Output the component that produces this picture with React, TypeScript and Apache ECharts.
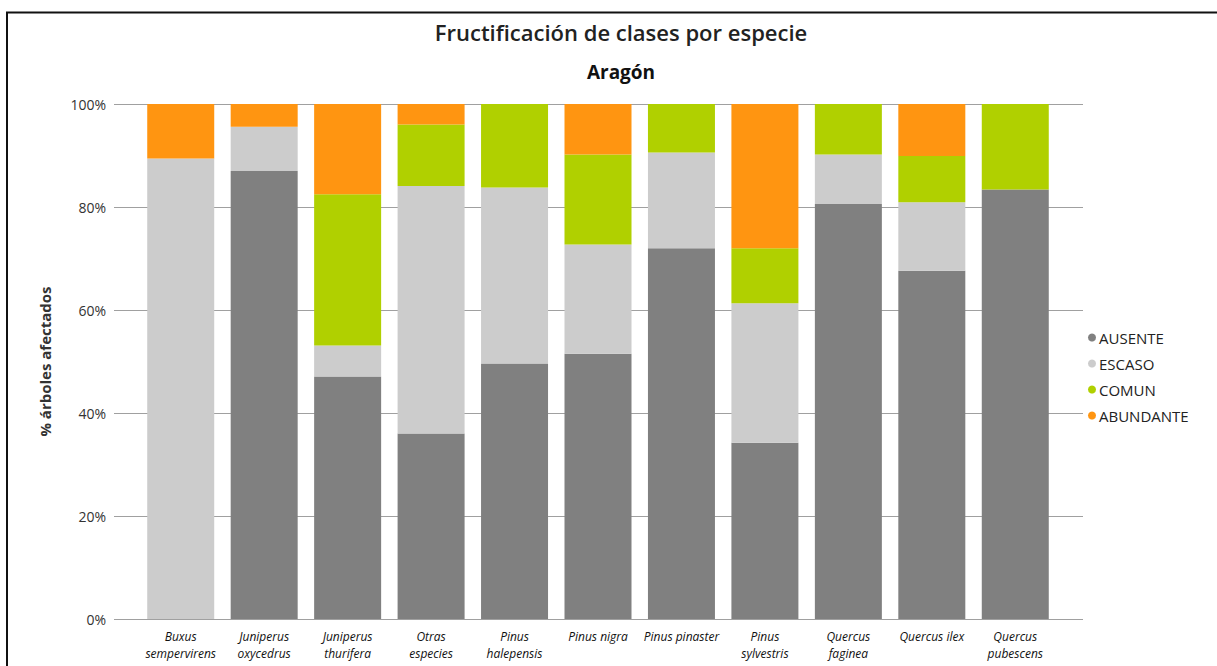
import React, { useEffect, useRef } from "react";
import * as echarts from "echarts";

const categories = [
  "Buxus sempervirens",
  "Juniperus oxycedrus",
  "Juniperus thurifera",
  "Otras especies",
  "Pinus halepensis",
  "Pinus nigra",
  "Pinus pinaster",
  "Pinus sylvestris",
  "Quercus faginea",
  "Quercus ilex",
  "Quercus pubescens",
];
const xTickLabels = [
  "Buxus\nsempervirens",
  "Juniperus\noxycedrus",
  "Juniperus\nthurifera",
  "Otras\nespecies",
  "Pinus\nhalepensis",
  "Pinus nigra",
  "Pinus pinaster",
  "Pinus\nsylvestris",
  "Quercus\nfaginea",
  "Quercus ilex",
  "Quercus\npubescens",
];
const ausente = [0, 87.0, 47.1, 36.0, 49.6, 51.5, 72.0, 34.2, 80.6, 67.6, 83.4];
const escaso = [89.4, 8.6, 6.0, 48.1, 34.2, 21.2, 18.6, 27.1, 9.6, 13.3, 0];
const comun = [0, 0, 29.4, 11.9, 16.2, 17.5, 9.4, 10.7, 9.8, 9.0, 16.6];
const abundante = [10.6, 4.4, 17.5, 4.0, 0, 9.8, 0, 28.0, 0, 10.1, 0];
const seriesNames = ["AUSENTE", "ESCASO", "COMUN", "ABUNDANTE"];
const seriesColors = ["#808080", "#cccccc", "#b0d000", "#ff9511"];
const yTicks = [0, 20, 40, 60, 80, 100];

const FONT = "'Open Sans', 'Noto Sans', sans-serif";

export default function App() {
  const ref = useRef<HTMLDivElement>(null);
  useEffect(() => {
    if (!ref.current) return;
    const chart = echarts.init(ref.current, undefined, { renderer: "svg" });
    const values = [ausente, escaso, comun, abundante];
    chart.setOption({
      animation: false,
      backgroundColor: "#ffffff",
      textStyle: { fontFamily: FONT },
      title: [
        {
          text: "Fructificación de clases por especie",
          left: 616,
          textAlign: "center",
          top: 16,
          textStyle: { fontFamily: FONT, fontSize: 22, fontWeight: 600, color: "#222" },
        },
        {
          text: "Aragón",
          left: 616,
          textAlign: "center",
          top: 57,
          textStyle: { fontFamily: FONT, fontSize: 19, fontWeight: "bold", color: "#111" },
        },
      ],
      legend: {
        orient: "vertical",
        left: 1083,
        top: 325,
        icon: "circle",
        itemWidth: 8,
        itemHeight: 8,
        itemGap: 11,
        data: seriesNames,
        textStyle: { fontFamily: FONT, fontSize: 15, color: "#222", padding: [0, 0, 0, -2] },
      },
      grid: [
        { left: 114, right: 134, top: 104, bottom: 47 },
        { left: 139, right: 160, top: 104, bottom: 47 },
      ],
      xAxis: [
        { gridIndex: 0, type: "value", min: 0, max: 1, show: false },
        {
          gridIndex: 1,
          type: "category",
          data: categories,
          axisLine: { show: false },
          axisTick: { show: false },
          axisLabel: {
            interval: 0,
            margin: 9,
            lineHeight: 17,
            fontFamily: FONT,
            fontSize: 12,
            fontStyle: "italic",
            color: "#111",
            formatter: (_v: string, i: number) => xTickLabels[i],
          },
        },
      ],
      yAxis: [
        {
          gridIndex: 0,
          type: "value",
          min: yTicks[0],
          max: yTicks[yTicks.length - 1],
          interval: 20,
          name: "% árboles afectados",
          nameLocation: "middle",
          nameGap: 62,
          nameTextStyle: { fontFamily: FONT, fontSize: 15, fontWeight: "bold", color: "#333" },
          axisLine: { show: false },
          axisTick: { show: false },
          axisLabel: {
            margin: 8,
            fontFamily: FONT,
            fontSize: 14,
            color: "#333",
            formatter: (v: number) => `${v}%`,
          },
          splitLine: { show: true, lineStyle: { color: "#a0a0a0", width: 1 } },
        },
        {
          gridIndex: 1,
          type: "value",
          min: 0,
          max: 100,
          show: false,
          splitLine: { show: false },
        },
      ],
      series: seriesNames.map((name, i) => ({
        name,
        type: "bar",
        stack: "total",
        xAxisIndex: 1,
        yAxisIndex: 1,
        barWidth: 67,
        data: values[i],
        itemStyle: { color: seriesColors[i] },
      })),
      graphic: [
        {
          type: "rect",
          shape: { x: 7, y: 12.5, width: 1240, height: 700 },
          style: { fill: "none", stroke: "#111", lineWidth: 2 },
          silent: true,
        },
      ],
    });
    return () => chart.dispose();
  }, []);
  return (
    <div
      ref={ref}
      style={{ position: "absolute", left: 0, top: 0, width: 1217, height: 666 }}
    />
  );
}
